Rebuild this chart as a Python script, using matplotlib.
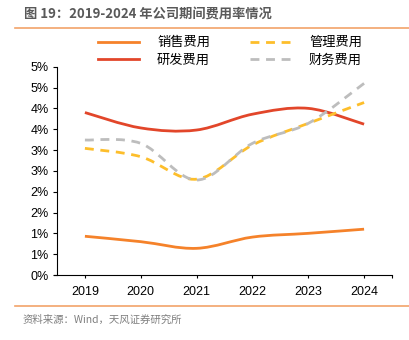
import numpy as np
import matplotlib
matplotlib.use("Agg")
import matplotlib.pyplot as plt
from matplotlib.path import Path
from matplotlib.patches import PathPatch
from matplotlib.lines import Line2D

# data (%)
years = ["2019", "2020", "2021", "2022", "2023", "2024"]
sales = [0.93, 0.80, 0.64, 0.91, 1.00, 1.10]
rnd = [3.90, 3.53, 3.48, 3.86, 4.00, 3.62]
mgmt = [3.04, 2.84, 2.30, 3.12, 3.64, 4.14]
fin = [3.24, 3.16, 2.28, 3.16, 3.64, 4.60]
ytick_vals = [0, 0.5, 1.0, 1.5, 2.0, 2.5, 3.0, 3.5, 4.0, 4.5, 5.0]
ytick_labels = ["0%", "1%", "1%", "2%", "2%", "3%", "3%", "4%", "4%", "5%", "5%"]

cjk = ["Noto Sans CJK SC", "DejaVu Sans"]
num = ["Liberation Sans", "DejaVu Sans"]


def smooth_path(x, y):
    # Excel-style smoothed line as cubic bezier segments
    pts = np.column_stack([x, y]).astype(float)
    n = len(pts)
    verts = [pts[0]]
    codes = [Path.MOVETO]
    for i in range(n - 1):
        p0 = pts[i - 1] if i > 0 else pts[i]
        p1, p2 = pts[i], pts[i + 1]
        p3 = pts[i + 2] if i + 2 < n else pts[i + 1]
        c1 = p1 + (p2 - p0) / 6
        c2 = p2 - (p3 - p1) / 6
        verts += [c1, c2, p2]
        codes += [Path.CURVE4] * 3
    return Path(verts, codes)


fig = plt.figure(figsize=(4.09, 3.40), dpi=100)
ax = fig.add_axes([57 / 409, 1 - 275 / 340, (392 - 57) / 409, (275 - 66.7) / 340])

x = np.arange(len(years))
series = [
    ("销售费用", sales, "#F5822A", "-"),
    ("研发费用", rnd, "#E2462A", "-"),
    ("管理费用", mgmt, "#FDBE2B", (0, (3.2, 2.4))),
    ("财务费用", fin, "#BDBDBD", (0, (3.2, 2.4))),
]
handles = []
for name, vals, col, ls in series:
    patch = PathPatch(smooth_path(x, vals), facecolor="none", edgecolor=col,
                      lw=2.0, linestyle=ls, capstyle="butt")
    ax.add_patch(patch)
    handles.append(Line2D([], [], color=col, lw=2.0, linestyle=ls, label=name))

ax.set_xlim(-0.5, 5.5)
ax.set_ylim(0, 5)
ax.set_yticks(ytick_vals)
ax.set_yticklabels(ytick_labels, family=num, fontsize=9)
ax.set_xticks(x)
ax.set_xticklabels(years, family=num, fontsize=9)
ax.set_xticks([5.5], minor=True)
ax.tick_params(axis="y", direction="out", length=3, width=0.8, pad=3)
ax.tick_params(axis="x", which="both", direction="out", length=2, width=0.8, pad=6)
for s in ["top", "right"]:
    ax.spines[s].set_visible(False)
ax.spines["left"].set_linewidth(0.8)
ax.spines["bottom"].set_linewidth(0.8)
ax.spines["bottom"].set_bounds(-0.55, 5.5)

fig.legend(handles=handles, ncol=2, frameon=False, prop={"family": cjk, "size": 9.5},
           loc="center", bbox_to_anchor=(0.562, 1 - 51.5 / 340),
           handlelength=3.1, handletextpad=1.4, columnspacing=3.0,
           labelspacing=0.35)

fig.text(24 / 409, 1 - 15 / 340, "图 19：2019-2024 年公司期间费用率情况",
         family=cjk, fontsize=9.5, fontweight="bold", color="#595959",
         ha="left", va="center")
fig.add_artist(Line2D([15 / 409, 1], [1 - 28.3 / 340] * 2, color="#F2A36A", lw=1.2))
fig.add_artist(Line2D([15 / 409, 1], [1 - 305.7 / 340] * 2, color="#F2A36A", lw=1.2))
fig.text(23 / 409, 1 - 320 / 340, "资料来源：Wind，天风证券研究所",
         family=cjk, fontsize=7.5, color="#7F7F7F", ha="left", va="center")

fig.savefig("out.png", dpi=100)
